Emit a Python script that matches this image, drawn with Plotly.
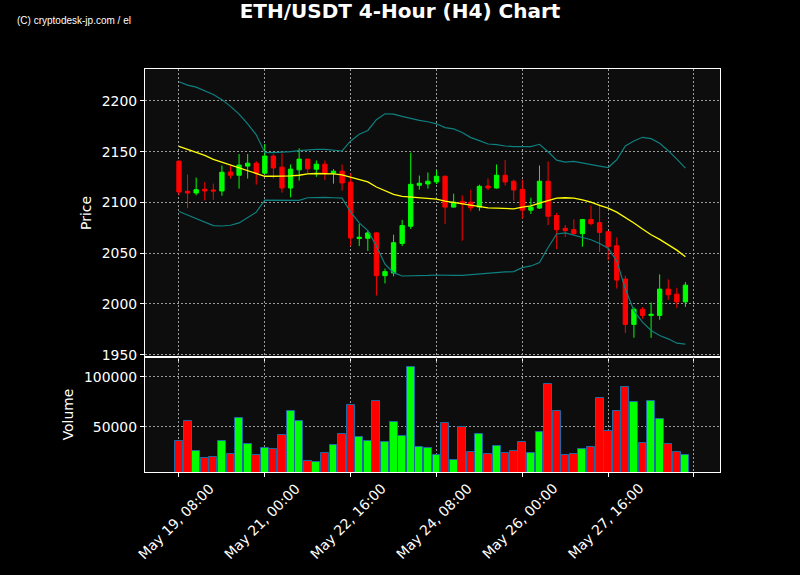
import plotly.graph_objects as go
from plotly.subplots import make_subplots

# ---- data ----
opens = [2140.7, 2111.0, 2109.3, 2113.0, 2112.3, 2111.3, 2130.0, 2126.8, 2135.8, 2138.7,
         2128.8, 2145.7, 2134.8, 2114.2, 2132.1, 2142.7, 2132.8, 2137.7, 2128.8, 2130.8,
         2119.9, 2064.4, 2064.7, 2070.0, 2027.8, 2030.5, 2059.6, 2076.5, 2116.9, 2118.2,
         2120.2, 2125.8, 2095.4, 2101.0, 2100.3, 2095.4, 2116.2, 2114.2, 2126.8, 2120.9,
         2112.9, 2092.4, 2094.4, 2120.9, 2087.1, 2074.5, 2073.2, 2069.2, 2083.1, 2080.1,
         2071.2, 2057.3, 2024.5, 1979.8, 1994.7, 1988.7, 1988.7, 2014.6, 2009.6, 2002.0]
highs = [2141.5, 2127.5, 2124.5, 2120.0, 2118.5, 2136.4, 2136.4, 2147.7, 2147.7, 2140.7,
         2157.6, 2147.4, 2148.3, 2137.4, 2153.3, 2143.0, 2141.4, 2141.4, 2132.8, 2137.4,
         2128.5, 2078.8, 2071.9, 2070.8, 2034.8, 2068.2, 2082.8, 2149.0, 2126.5, 2129.5,
         2131.8, 2126.5, 2108.6, 2107.0, 2112.6, 2117.5, 2123.5, 2137.4, 2141.7, 2122.5,
         2122.5, 2104.6, 2136.4, 2140.4, 2089.7, 2077.8, 2083.4, 2083.8, 2097.0, 2098.0,
         2071.5, 2065.6, 2027.8, 1996.7, 1996.7, 2001.3, 2029.1, 2024.2, 2015.9, 2021.5]
lows = [2107.0, 2094.4, 2107.0, 2102.0, 2102.6, 2106.6, 2123.5, 2113.6, 2123.5, 2117.5,
        2128.8, 2123.5, 2109.6, 2105.0, 2121.5, 2128.8, 2125.2, 2121.9, 2118.5, 2111.6,
        2057.0, 2057.0, 2052.3, 2008.3, 2020.2, 2027.2, 2057.0, 2073.8, 2112.6, 2113.6,
        2118.2, 2078.8, 2095.0, 2062.3, 2091.4, 2091.7, 2111.9, 2113.6, 2116.6, 2101.7,
        2083.8, 2088.7, 2093.7, 2077.8, 2054.0, 2066.0, 2068.2, 2056.3, 2077.5, 2051.3,
        2043.0, 2015.2, 1971.2, 1966.6, 1985.4, 1966.6, 1984.4, 2004.0, 1996.0, 1997.0]
closes = [2110.3, 2109.3, 2112.6, 2111.3, 2111.3, 2129.8, 2126.8, 2136.8, 2138.7, 2128.8,
          2145.7, 2134.0, 2114.2, 2132.8, 2142.7, 2133.1, 2137.7, 2129.1, 2130.8, 2119.2,
          2065.0, 2065.7, 2070.0, 2027.8, 2031.8, 2060.3, 2077.2, 2117.9, 2118.9, 2120.9,
          2125.8, 2095.4, 2100.3, 2098.7, 2094.7, 2115.9, 2114.2, 2126.8, 2120.2, 2112.3,
          2092.4, 2095.4, 2120.9, 2086.4, 2073.2, 2072.2, 2069.2, 2083.1, 2079.1, 2070.5,
          2056.6, 2023.5, 1979.8, 1994.7, 1988.7, 1989.7, 2014.6, 2009.0, 2002.0, 2018.5]
volumes = [36000, 56300, 26000, 19000, 20300, 36000, 23000, 59000, 33000, 22000,
           29000, 28300, 42000, 66000, 56300, 16000, 15000, 24000, 32000, 43000,
           72000, 40000, 36000, 76000, 35000, 55000, 41000, 110000, 30000, 29000,
           22000, 54000, 17000, 50000, 25000, 43000, 23000, 31000, 24000, 26000,
           35000, 24000, 45000, 93000, 66000, 22000, 23000, 28000, 30000, 79000,
           46000, 66000, 90000, 75000, 34000, 76000, 58000, 33000, 25000, 22000]
ma = [2155.3, 2152.3, 2149.3, 2146.4, 2142.4, 2139.7, 2137.1, 2133.8, 2131.1, 2128.5,
      2125.8, 2125.8, 2125.8, 2126.2, 2126.8, 2128.1, 2128.5, 2128.5, 2128.1, 2127.2,
      2124.8, 2122.8, 2120.2, 2115.2, 2111.3, 2107.9, 2106.0, 2105.3, 2104.6, 2104.3,
      2103.3, 2101.3, 2100.0, 2098.7, 2096.7, 2095.4, 2094.7, 2094.4, 2094.0, 2093.7,
      2095.4, 2096.7, 2099.3, 2102.0, 2104.3, 2104.6, 2104.3, 2102.6, 2100.3, 2097.0,
      2094.4, 2090.4, 2085.4, 2079.8, 2073.8, 2068.2, 2063.6, 2058.3, 2053.0, 2046.4]
bb_upper = [2218.9, 2215.6, 2213.6, 2210.3, 2206.3, 2201.3, 2194.7, 2187.1, 2177.5, 2166.6,
            2149.3, 2149.0, 2149.3, 2150.0, 2151.0, 2151.7, 2152.3, 2152.3, 2151.7, 2150.7,
            2160.6, 2167.2, 2170.9, 2181.5, 2187.4, 2187.1, 2184.8, 2182.5, 2180.8, 2179.5,
            2177.5, 2173.8, 2172.5, 2168.9, 2163.9, 2160.9, 2157.6, 2157.0, 2155.6, 2155.0,
            2155.0, 2155.0, 2157.3, 2150.0, 2141.7, 2139.7, 2140.4, 2138.7, 2137.1, 2135.8,
            2134.4, 2142.0, 2155.6, 2160.6, 2164.2, 2162.9, 2158.3, 2151.0, 2142.7, 2133.8]
bb_lower = [2091.1, 2087.7, 2084.1, 2080.5, 2077.2, 2076.8, 2077.5, 2079.8, 2085.1, 2090.4,
            2102.3, 2102.3, 2102.0, 2102.0, 2102.0, 2104.6, 2105.0, 2105.0, 2104.6, 2104.3,
            2090.4, 2079.8, 2072.2, 2057.0, 2039.1, 2030.8, 2027.5, 2027.5, 2027.8, 2028.1,
            2028.5, 2028.1, 2028.1, 2028.1, 2028.8, 2029.8, 2030.8, 2031.1, 2031.5, 2031.8,
            2035.8, 2037.4, 2040.7, 2055.6, 2068.9, 2069.9, 2067.9, 2065.6, 2063.2, 2059.6,
            2055.0, 2042.4, 2014.9, 1993.4, 1982.1, 1973.8, 1968.9, 1965.6, 1961.3, 1960.3]
tick_positions = [0, 10, 20, 30, 40, 50, 60]
tick_labels = ["May 19, 08:00", "May 21, 00:00", "May 22, 16:00", "May 24, 08:00",
               "May 26, 00:00", "May 27, 16:00", ""]

x = list(range(len(closes)))
UP, DOWN = "#00ff00", "#ff0000"
vol_colors = [UP if c >= o else DOWN for o, c in zip(opens, closes)]
FS = 13.9

fig = make_subplots(rows=2, cols=1, shared_xaxes=True, vertical_spacing=0,
                    row_heights=[0.7146, 0.2854])

fig.add_trace(go.Scatter(x=x, y=bb_upper, mode="lines",
                         line=dict(color="#0f7f7f", width=1.2), hoverinfo="skip"), row=1, col=1)
fig.add_trace(go.Scatter(x=x, y=bb_lower, mode="lines",
                         line=dict(color="#0f7f7f", width=1.2), hoverinfo="skip"), row=1, col=1)
fig.add_trace(go.Candlestick(x=x, open=opens, high=highs, low=lows, close=closes,
                             increasing=dict(line=dict(color=UP, width=1), fillcolor=UP),
                             decreasing=dict(line=dict(color=DOWN, width=1), fillcolor=DOWN),
                             whiskerwidth=0), row=1, col=1)
fig.add_trace(go.Scatter(x=x, y=ma, mode="lines",
                         line=dict(color="#ffff00", width=1.3), hoverinfo="skip"), row=1, col=1)
fig.add_trace(go.Bar(x=x, y=volumes, marker=dict(color=vol_colors,
                     line=dict(color="#1f6aa5", width=1)), width=0.92), row=2, col=1)

axis_common = dict(showline=True, linecolor="white", linewidth=1.3, mirror=True,
                   gridcolor="#9a9a9a", griddash="2px,2px", gridwidth=1, zeroline=False,
                   ticks="outside", ticklen=4, tickcolor="white",
                   tickfont=dict(color="white", size=FS))

fig.update_xaxes(**axis_common, range=[-3.96, 63.03], tickmode="array",
                 tickvals=tick_positions, ticktext=tick_labels, showticklabels=False)
fig.update_yaxes(**axis_common)
fig.update_yaxes(range=[1947.7, 2231.5], tickvals=[1950, 2000, 2050, 2100, 2150, 2200],
                 title=dict(text="Price", font=dict(color="white", size=FS), standoff=6),
                 row=1, col=1)
fig.update_yaxes(range=[5000, 120000], tickvals=[50000, 100000], tickformat="d",
                 title=dict(text="Volume", font=dict(color="white", size=FS), standoff=7),
                 row=2, col=1)

# rotated date labels, centred under their ticks (matplotlib style)
for pos, lab in zip(tick_positions, tick_labels):
    if lab:
        fig.add_annotation(text=lab, x=pos, xref="x2", y=(472 - 521) / 403, yref="paper",
                           xanchor="center", yanchor="middle", textangle=-45, xshift=-2.5,
                           showarrow=False, font=dict(color="white", size=FS))

fig.update_layout(
    width=800, height=575,
    margin=dict(l=145, r=80, t=69, b=103),
    paper_bgcolor="#000000", plot_bgcolor="#0d0d0d",
    font=dict(family="DejaVu Sans", color="white"),
    showlegend=False, bargap=0, boxgap=0.28,
    xaxis_rangeslider_visible=False,
    title=dict(text="<b>ETH/USDT 4-Hour (H4) Chart</b>", x=0.5, xanchor="center",
               y=1 - 11 / 575, yanchor="middle", font=dict(size=20, color="white")),
)
fig.add_annotation(text="(C) cryptodesk-jp.com / el", xref="paper", yref="paper",
                   x=(15 - 145) / 575, y=1 + (69 - 21) / 403, xanchor="left", yanchor="middle",
                   showarrow=False, font=dict(family="Liberation Sans", size=10, color="white"))

fig.write_html("out.html", config={"displayModeBar": False},
               post_script="document.body.style.margin='0';document.body.style.background='#000';")
